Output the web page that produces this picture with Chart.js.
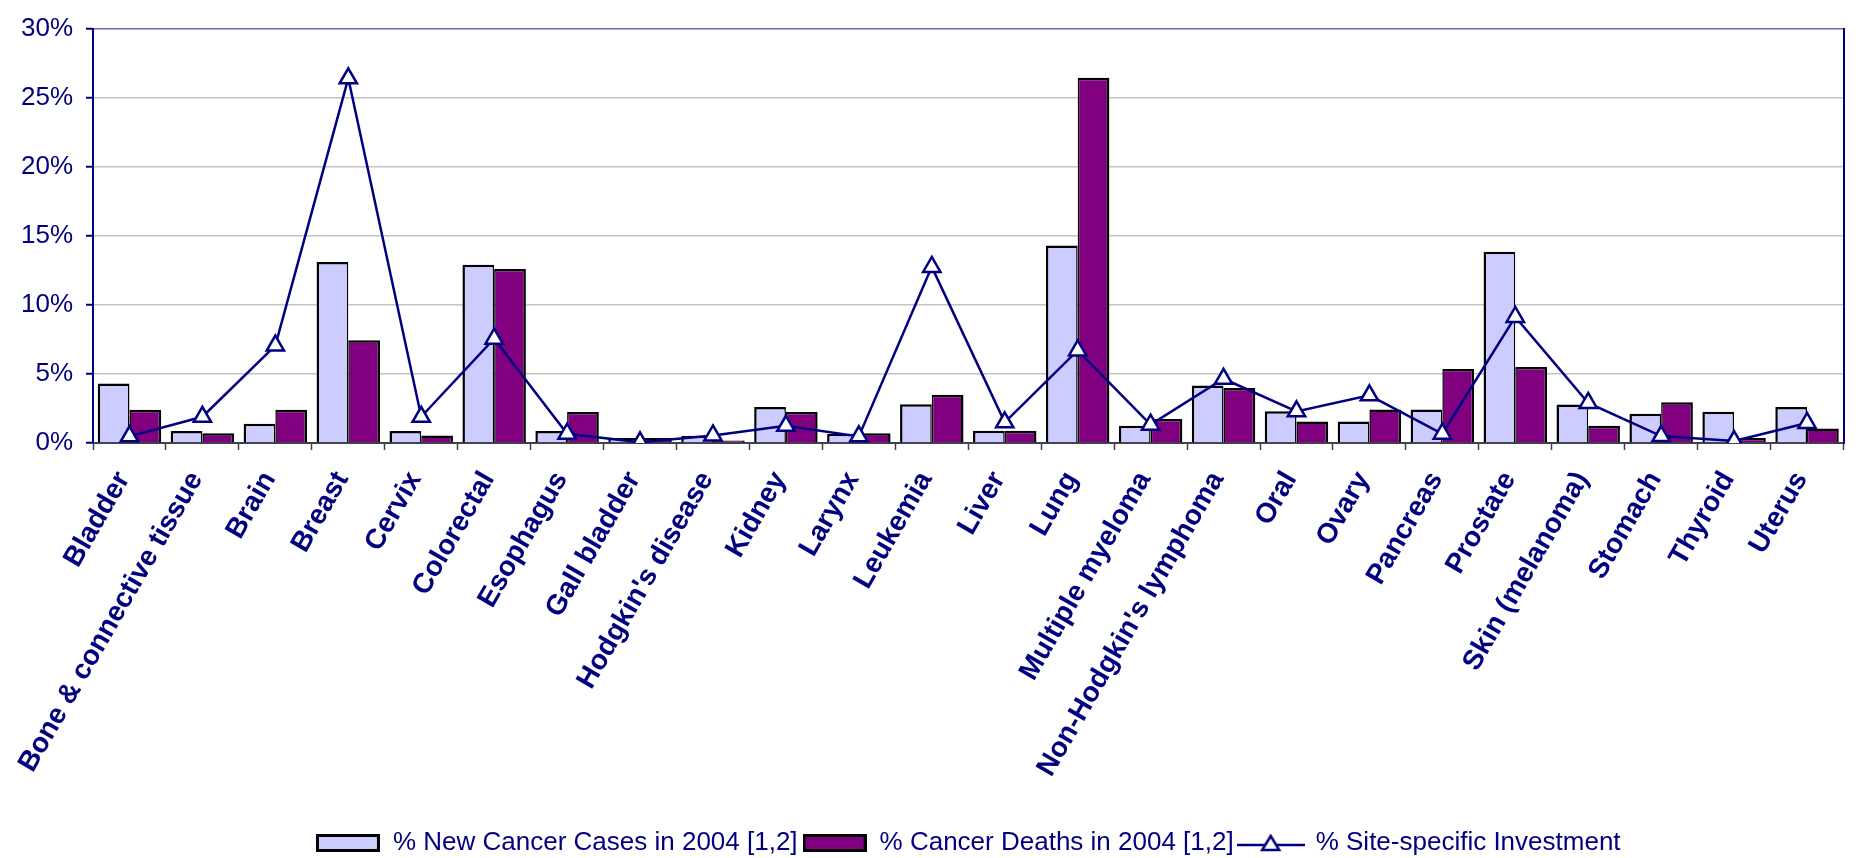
<!DOCTYPE html>
<html>
<head>
<meta charset="utf-8">
<script src="https://cdn.jsdelivr.net/npm/chart.js@4/dist/chart.umd.min.js"></script>
<style>
  html, body { margin: 0; padding: 0; background: #fff; }
  #wrap { width: 1856px; height: 858px; position: relative; }
</style>
</head>
<body>
<div id="wrap"><canvas id="cancerChart"></canvas></div>
<script>
const sites = ['Bladder', 'Bone & connective tissue', 'Brain', 'Breast', 'Cervix', 'Colorectal',
  'Esophagus', 'Gall bladder', "Hodgkin's disease", 'Kidney', 'Larynx', 'Leukemia', 'Liver',
  'Lung', 'Multiple myeloma', "Non-Hodgkin's lymphoma", 'Oral', 'Ovary', 'Pancreas',
  'Prostate', 'Skin (melanoma)', 'Stomach', 'Thyroid', 'Uterus'];

const newCases = [4.3, 0.86, 1.4, 13.1, 0.86, 12.9, 0.86, 0.36, 0.52, 2.6, 0.67, 2.8, 0.88,
  14.3, 1.24, 4.17, 2.29, 1.55, 2.43, 13.85, 2.79, 2.12, 2.26, 2.6];

const deaths = [2.4, 0.7, 2.4, 7.43, 0.55, 12.6, 2.24, 0.36, 0.19, 2.24, 0.71, 3.5, 0.88,
  26.45, 1.74, 3.98, 1.55, 2.43, 5.36, 5.5, 1.24, 2.95, 0.36, 1.05];

const investment = [0.48, 1.9, 7.05, 26.4, 1.9, 7.55, 0.67, 0.05, 0.55, 1.24, 0.48, 12.75, 1.5,
  6.7, 1.33, 4.65, 2.29, 3.45, 0.67, 9.13, 2.9, 0.5, 0.14, 1.45];

const yTicks = [0, 5, 10, 15, 20, 25, 30];

const navy = '#000080';
const lilac = '#ccccff';
const plum = '#800080';
const fontFam = '"Liberation Sans", Arial, sans-serif';

// legend symbols
function boxSymbol(fill) {
  const c = document.createElement('canvas');
  c.width = 64; c.height = 18;
  const g = c.getContext('2d');
  g.fillStyle = fill;
  g.fillRect(0, 0, 64, 18);
  g.strokeStyle = '#000';
  g.lineWidth = 3;
  g.strokeRect(1.5, 1.5, 61, 15);
  return c;
}
function lineSymbol() {
  const c = document.createElement('canvas');
  c.width = 68; c.height = 22;
  const g = c.getContext('2d');
  g.strokeStyle = navy;
  g.lineWidth = 2.5;
  g.beginPath(); g.moveTo(0, 13); g.lineTo(68, 13); g.stroke();
  g.beginPath();
  g.moveTo(34, 4); g.lineTo(42.5, 18); g.lineTo(25.5, 18); g.closePath();
  g.fillStyle = '#fff'; g.fill(); g.stroke();
  return c;
}
const legendSymbols = [boxSymbol(lilac), boxSymbol(plum), lineSymbol()];

const ctx = document.getElementById('cancerChart');

new Chart(ctx, {
  data: {
    labels: sites,
    datasets: [
      {
        type: 'line',
        label: '% Site-specific Investment',
        data: investment,
        borderColor: navy,
        borderWidth: 2.5,
        tension: 0,
        pointStyle: 'triangle',
        pointRadius: 10,
        pointBackgroundColor: '#fff',
        pointBorderColor: navy,
        pointBorderWidth: 2.5,
        order: 0
      },
      {
        type: 'bar',
        label: '% New Cancer Cases in 2004 [1,2]',
        data: newCases,
        backgroundColor: lilac,
        borderColor: '#000',
        borderWidth: { top: 2.5, left: 2.5, right: 1.5, bottom: 0 },
        borderSkipped: false,
        categoryPercentage: 0.87,
        barPercentage: 1.0,
        order: 1
      },
      {
        type: 'bar',
        label: '% Cancer Deaths in 2004 [1,2]',
        data: deaths,
        backgroundColor: plum,
        borderColor: '#000',
        borderWidth: { top: 2.5, left: 1.5, right: 2.5, bottom: 0 },
        borderSkipped: false,
        categoryPercentage: 0.87,
        barPercentage: 1.0,
        order: 1
      }
    ]
  },
  options: {
    responsive: true,
    maintainAspectRatio: false,
    animation: false,
    layout: { padding: { top: 23, right: 7, bottom: -8, left: 0 } },
    plugins: {
      tooltip: { enabled: false },
      legend: {
        position: 'bottom',
        fullSize: false,
        labels: {
          usePointStyle: true,
          pointStyleWidth: 64,
          boxHeight: 18,
          padding: 5,
          color: navy,
          font: { family: fontFam, size: 26 },
          sort: (a, b) => {
            const rank = [2, 0, 1];
            return rank[a.datasetIndex] - rank[b.datasetIndex];
          },
          generateLabels: (chart) => {
            const items = Chart.defaults.plugins.legend.labels.generateLabels(chart);
            items.forEach(it => {
              const k = it.datasetIndex === 0 ? 2 : it.datasetIndex - 1;
              it.pointStyle = legendSymbols[k];
            });
            return items;
          }
        }
      }
    },
    scales: {
      x: {
        offset: true,
        grid: {
          offset: true,
          drawOnChartArea: false,
          drawTicks: true,
          tickLength: 7,
          tickColor: '#404040',
          tickWidth: 1.5
        },
        border: { color: '#404050', width: 2 },
        ticks: {
          autoSkip: false,
          minRotation: 60,
          maxRotation: 60,
          padding: 16,
          labelOffset: -6,
          color: navy,
          font: { family: fontFam, size: 28, weight: 'bold' }
        },
        afterFit: (scale) => { scale.height = 858 + 8 - 41 - 443; }
      },
      y: {
        min: 0,
        max: 30,
        afterBuildTicks: (scale) => { scale.ticks = yTicks.map(v => ({ value: v })); },
        grid: {
          color: (c) => (c.tick && c.tick.value === 30 ? '#6a6aae' : '#c4c4c4'),
          lineWidth: 1.5,
          tickLength: 7,
          tickColor: navy,
          tickWidth: 2
        },
        border: { color: navy, width: 2 },
        ticks: {
          padding: 13,
          color: navy,
          font: { family: fontFam, size: 26 },
          callback: (v) => v + '%'
        },
        afterFit: (scale) => { scale.width = 93; }
      },
      y2: {
        position: 'right',
        min: 0,
        max: 30,
        grid: { drawOnChartArea: false, drawTicks: false },
        border: { color: navy, width: 2 },
        ticks: { display: false },
        afterFit: (scale) => { scale.width = 0; }
      }
    }
  }
});
</script>
</body>
</html>
